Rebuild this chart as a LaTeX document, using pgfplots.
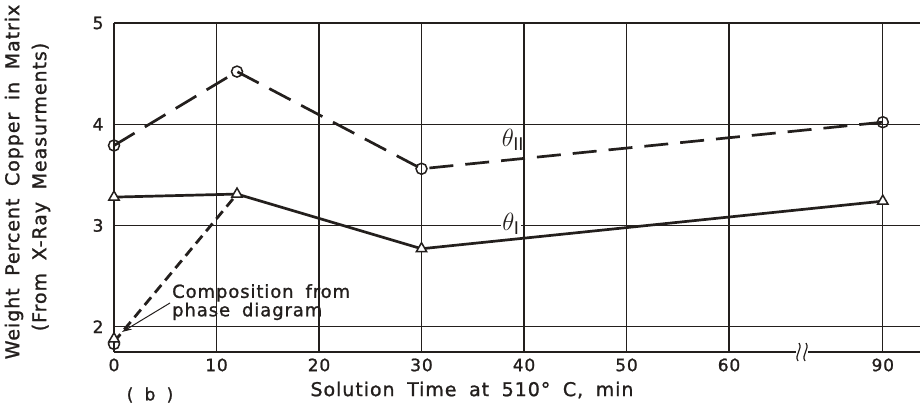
\documentclass[border=0pt]{standalone}
\usepackage{fontspec}
\setmainfont{DejaVu Sans}
\newfontfamily\lettering[LetterSpace=5, WordSpace=1.8, FakeBold=1.2]{DejaVu Sans}
\usepackage{pgfplots}
\pgfplotsset{compat=1.18}
\usetikzlibrary{arrows.meta}
\definecolor{ink}{RGB}{35,31,29}

% x = 90 min is drawn at 75 (broken axis between 60 and 90)
\pgfplotstableread{
x y
0  3.79
12 4.52
30 3.56
75 4.02
}\thetaII
\pgfplotstableread{
x y
0  3.28
12 3.31
30 2.77
75 3.24
}\thetaI
\pgfplotstableread{
x y
0  1.85
12 3.31
}\phase

\begin{document}
\begin{tikzpicture}[x=1pt,y=1pt]
\useasboundingbox (-114,-52) rectangle (806,352);
\begin{axis}[
  at={(0,0)}, anchor=south west,
  scale only axis, width=806pt, height=329pt,
  xmin=0, xmax=78.63, ymin=1.75, ymax=5,
  axis x line*=bottom, axis y line*=left,
  axis line style={ink, line width=2.8pt, -},
  xtick={0,10,20,30,40,50,60,75},
  xticklabels={0,10,20,30,40,50,60,90},
  ytick={2,3,4,5},
  major tick length=0pt,
  grid=major,
  major grid style={ink, line width=1.3pt},
  tick label style={font=\lettering\fontsize{17}{17}\selectfont, text=ink},
  /pgf/number format/assume math mode=true,
  xticklabel style={yshift=-3pt},
  yticklabel style={xshift=-7pt},
  clip=false,
]
\addplot[ink, line width=2.8pt, dash pattern=on 10pt off 6pt] table {\phase};
\addplot[ink, line width=2.7pt, dash pattern=on 24pt off 12pt] table {\thetaII};
\addplot[ink, line width=2.7pt] table {\thetaI};
\addplot[only marks, mark=o, mark size=5.5pt,
  mark options={ink, fill=white, line width=1.5pt}] table {\thetaII};
\addplot[only marks, mark=triangle*, mark size=6pt,
  mark options={ink, fill=white, line width=1.5pt}] table {\thetaI};
\addplot[only marks, mark=o, mark size=5.5pt,
  mark options={ink, fill=white, line width=1.5pt}] coordinates {(0,1.83)};
\addplot[only marks, mark=triangle*, mark size=6pt,
  mark options={ink, fill=white, line width=1.5pt}] coordinates {(0,1.88)};
\end{axis}

% axis break
\fill[white] (682,-4) rectangle (694,4);
\draw[ink, line width=1.2pt] (684,-9) .. controls (680,-3) and (689,3) .. (685,9);
\draw[ink, line width=1.2pt] (691,-9) .. controls (687,-3) and (696,3) .. (692,9);

% texts
\node[text=ink, font=\lettering\fontsize{19}{19}\selectfont] at (358,-38) {Solution Time at 510° C, min};
\node[text=ink, font=\lettering\fontsize{17}{17}\selectfont] at (36,-43) {( b )};
\node[text=ink, rotate=90, font=\lettering\fontsize{19}{19}\selectfont] at (-100,170) {Weight Percent Copper in Matrix};
\node[text=ink, rotate=90, font=\lettering\fontsize{19}{19}\selectfont] at (-73,165) {(From X-Ray Measurments)};
\node[text=ink, anchor=north west, align=left, inner sep=0pt,
  font=\lettering\fontsize{18}{16}\selectfont] at (58,68) {Composition from\\phase diagram};
\draw[ink, line width=1pt, -{Stealth[length=10pt, width=6pt]}] (56,49) -- (8,20);
\node[text=ink, font=\fontsize{25}{25}\selectfont] at (399,212) {$\theta_{\mathrm{II}}$};
\node[text=ink, fill=white, inner sep=1pt, font=\fontsize{25}{25}\selectfont] at (397,128) {$\theta_{\mathrm{I}}$};
\end{tikzpicture}
\end{document}
